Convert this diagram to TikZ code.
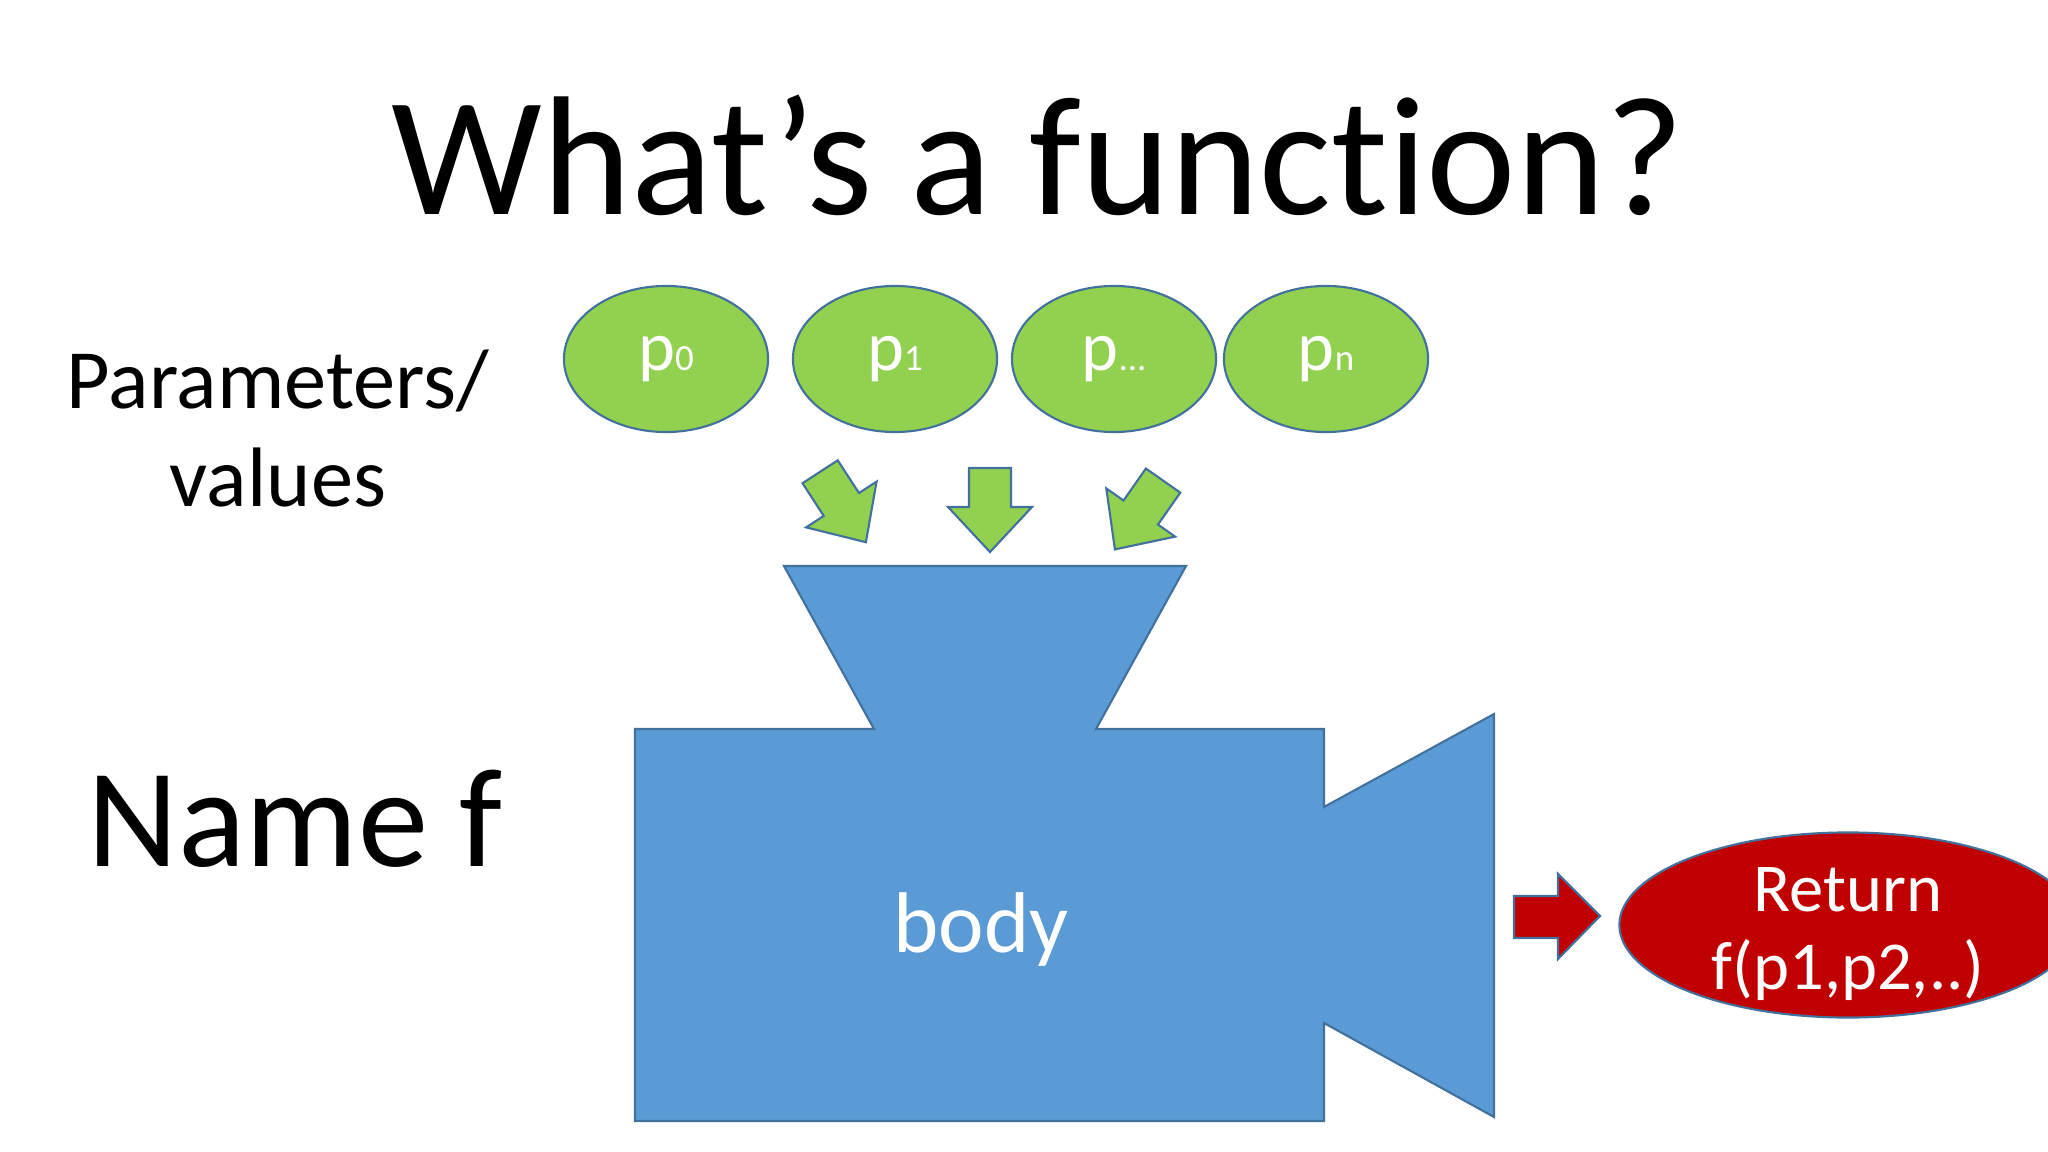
\documentclass[tikz,border=0pt]{standalone}
\usepackage{fontspec}
\setmainfont{Carlito}[Ligatures=NoCommon]
\usepackage{xcolor}
\usepackage{tikz}
\usetikzlibrary{shapes.geometric}

\definecolor{leafgreen}{HTML}{92D050}
\definecolor{bodyblue}{HTML}{5B9BD5}
\definecolor{edgeblue}{HTML}{41719C}
\definecolor{retred}{HTML}{C00000}

\newcommand{\psub}[1]{p{\fontsize{10.5}{10.5}\selectfont #1}}

\begin{document}
\begin{tikzpicture}[x=0.01cm, y=-0.01cm,
        param/.style={ellipse, draw=edgeblue, fill=leafgreen, line width=0.6pt,
            minimum width=2.04cm, minimum height=1.46cm, inner sep=0pt,
            text=white, font=\fontsize{20}{20}\selectfont},
        label/.style={inner sep=0pt, anchor=base},
        greenarrow/.pic={
            \draw[draw=edgeblue, fill=leafgreen, line width=0.6pt]
                (-21,-42) -- (21,-42) -- (21,-3) -- (42,-3) -- (0,42)
                -- (-42,-3) -- (-21,-3) -- cycle;
        }]
        \useasboundingbox (0,0) rectangle (2048,1152);
        \clip (0,0) rectangle (2048,1152);

        % title and side labels
        \node[label, font=\fontsize{48.2}{48}\selectfont] (title) at (1038,215) {What’s a function?};
        \node[label, font=\fontsize{24}{24}\selectfont] (parlbl) at (278,409) {Parameters/};
        \node[label, font=\fontsize{24}{24}\selectfont] (vallbl) at (278,507) {values};
        \node[label, font=\fontsize{40}{40}\selectfont] (namelbl) at (295,866) {Name f};

        % parameters
        \node[param] (p0) at (666,359) {\psub{0}};
        \node[param] (p1) at (895,359) {\psub{1}};
        \node[param] (pdots) at (1114,359) {\psub{...}};
        \node[param] (pn) at (1326,359) {\psub{n}};

        % arrows into the funnel
        \pic[rotate=33] at (843,507) {greenarrow};
        \pic at (990,510) {greenarrow};
        \pic[rotate=-35] at (1139,515) {greenarrow};

        % the function body
        \draw[draw=edgeblue, fill=bodyblue, line width=0.6pt]
            (784,566) -- (1186,566) -- (1096,729) -- (1324,729) -- (1324,807)
            -- (1494,714) -- (1494,1117) -- (1324,1023) -- (1324,1121)
            -- (635,1121) -- (635,729) -- (874,729) -- cycle;
        \node[text=white, font=\fontsize{24.5}{24.5}\selectfont] (body) at (981,930) {body};

        % result
        \draw[draw=edgeblue, fill=retred, line width=0.6pt]
            (1514,896) -- (1558,896) -- (1558,874) -- (1600,916)
            -- (1558,959) -- (1558,938) -- (1514,938) -- cycle;
        \node[ellipse, draw=edgeblue, fill=retred, line width=0.6pt,
            minimum width=4.57cm, minimum height=1.85cm, inner sep=0pt] (ret) at (1848,925) {};
        \node[text=white, align=center, inner sep=0pt,
            font=\fontsize{19.5}{22.2}\selectfont] (rettext) at (1848,934) {Return\\f(p1,p2,..)};
    \end{tikzpicture}
\end{document}
